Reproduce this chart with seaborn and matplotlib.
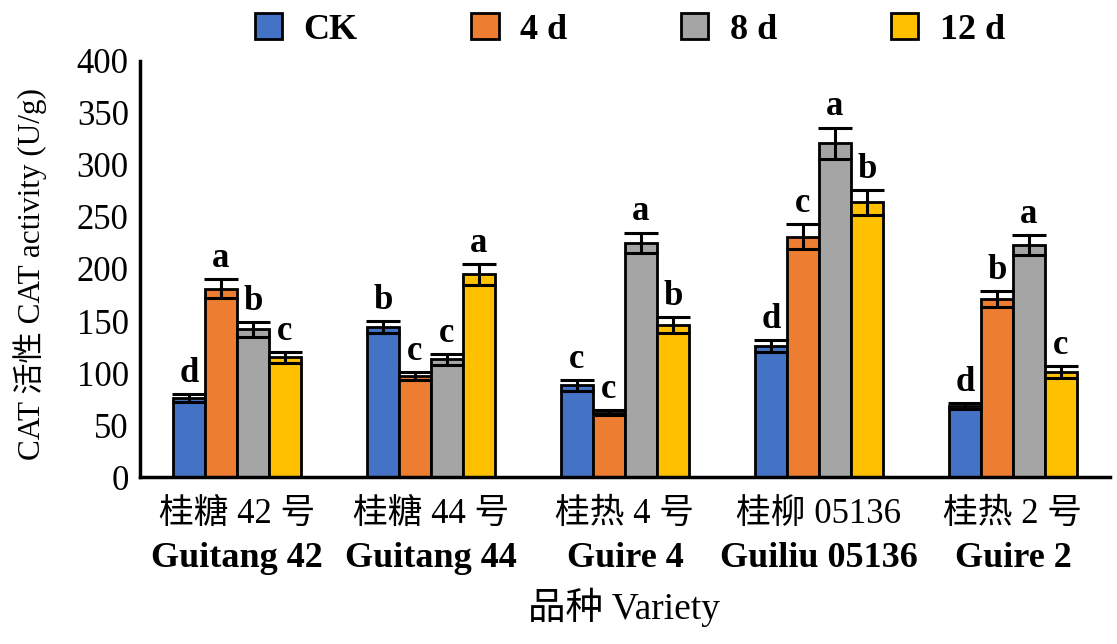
import numpy as np
import pandas as pd
import matplotlib
matplotlib.use("Agg")
import matplotlib.pyplot as plt
import seaborn as sns
from matplotlib.patches import Patch

varieties_cn = ["桂糖 42 号", "桂糖 44 号", "桂热 4 号", "桂柳 05136", "桂热 2 号"]
varieties_en = ["Guitang 42", "Guitang 44", "Guire 4", "Guiliu 05136", "Guire 2"]
treatments = ["CK", "4 d", "8 d", "12 d"]

ck = [76, 144, 88, 126, 68]
d4 = [181, 97, 62, 231, 171]
d8 = [142, 113, 225, 321, 223]
d12 = [115, 195, 146, 264, 101]

ck_err = [4, 6, 5, 6, 3]
d4_err = [9, 4, 2, 12, 8]
d8_err = [7, 5, 10, 15, 10]
d12_err = [5, 10, 8, 12, 6]

ck_sig = ["d", "b", "c", "d", "d"]
d4_sig = ["a", "c", "c", "c", "b"]
d8_sig = ["b", "c", "a", "a", "a"]
d12_sig = ["c", "a", "b", "b", "c"]

colors = ["#4472C4", "#ED7D31", "#A5A5A5", "#FFC000"]

values = [ck, d4, d8, d12]
errors = [ck_err, d4_err, d8_err, d12_err]
sigs = [ck_sig, d4_sig, d8_sig, d12_sig]

rows = []
for t, vals in zip(treatments, values):
    for v, val in zip(varieties_cn, vals):
        rows.append({"variety": v, "treatment": t, "value": val})
df = pd.DataFrame(rows)

sns.set_style("white")
plt.rcParams["font.family"] = ["Liberation Serif", "Noto Sans CJK SC"]
plt.rcParams["text.color"] = "black"
plt.rcParams["xtick.color"] = "black"
plt.rcParams["ytick.color"] = "black"
plt.rcParams["axes.labelcolor"] = "black"

fig = plt.figure(figsize=(11.17, 6.44), dpi=100)
ax = fig.add_axes([0.1253, 0.2593, 0.8684, 0.646])

sns.barplot(data=df, x="variety", y="value", hue="treatment", order=varieties_cn,
            hue_order=treatments, palette=colors, saturation=1, width=0.66, gap=0,
            edgecolor="black", linewidth=2, errorbar=None, legend=False, ax=ax)
ax.set_xlabel("")
ax.set_ylabel("")

# error bars + significance letters
bar_groups = list(ax.containers)
for i, cont in enumerate(bar_groups):
    for j, bar in enumerate(cont.patches):
        xc = bar.get_x() + bar.get_width() / 2
        h = bar.get_height()
        e = errors[i][j]
        ax.errorbar(xc, h, yerr=e, color="black", capsize=12, capthick=2.2,
                    elinewidth=2.2, fmt="none", zorder=5)
        ax.text(xc, h + e + 4, sigs[i][j], ha="center", va="bottom",
                fontsize=25, fontweight="bold", family="Liberation Serif")

ax.set_ylim(0, 400)
ax.set_xlim(-0.5, 4.5)
ax.set_yticks(np.arange(0, 401, 50))
ax.tick_params(axis="y", direction="in", length=8, width=2, labelsize=25, pad=8)

# ticks at group boundaries, labels at centres
ax.set_xticks(np.arange(-0.5, 4.6, 1.0))
ax.set_xticklabels([])
ax.tick_params(axis="x", which="major", direction="in", length=8, width=2)
ax.set_xticks(np.arange(5), minor=True)
ax.set_xticklabels(varieties_cn, minor=True)
ax.tick_params(axis="x", which="minor", length=0, labelsize=25, pad=15)
for k, en in enumerate(varieties_en):
    ax.annotate(en, xy=(k, 0), xycoords=("data", "axes fraction"),
                xytext=(0, -59), textcoords="offset points", ha="center",
                va="center", fontsize=26, fontweight="bold",
                family="Liberation Serif")

sns.despine(ax=ax, top=True, right=True)
for s in ["left", "bottom"]:
    ax.spines[s].set_linewidth(2.5)
    ax.spines[s].set_color("black")

fig.text(0.027, 0.575, "CAT 活性 CAT activity (U/g)", rotation=90, ha="center",
         va="center", fontsize=22.5)
fig.text(0.559, 0.0575, "品种 Variety", ha="center", va="center", fontsize=27)

handles = [Patch(facecolor=c, edgecolor="black", linewidth=2) for c in colors]
ax.legend(handles, treatments, loc="center", bbox_to_anchor=(0.505, 1.075),
          ncol=4, frameon=False, handlelength=0.75, handleheight=0.75,
          handletextpad=0.6, columnspacing=3.15,
          prop={"family": "Liberation Serif", "size": 26, "weight": "bold"})

fig.savefig("out.png", dpi=100)
